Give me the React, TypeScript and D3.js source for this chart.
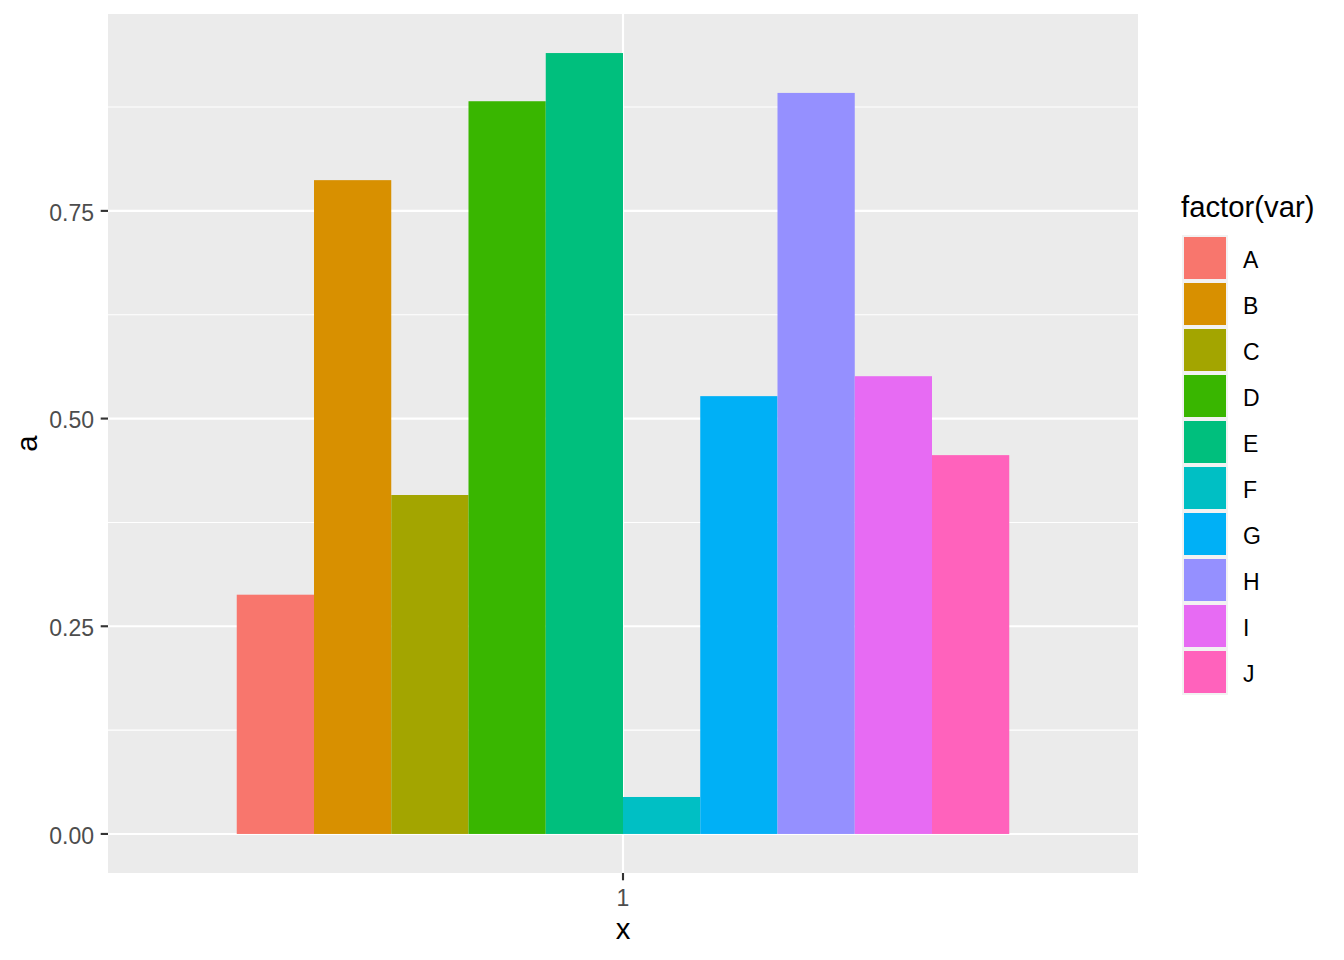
import React from "react";
import * as d3 from "d3";

const categories = ["1"];
const vars = ["A", "B", "C", "D", "E", "F", "G", "H", "I", "J"];
const values = [0.288, 0.787, 0.408, 0.882, 0.940, 0.0445, 0.527, 0.892, 0.551, 0.456];
const colors = ["#F8766D", "#D89000", "#A3A500", "#39B600", "#00BF7D", "#00BFC4", "#00B0F6", "#9590FF", "#E76BF3", "#FF62BC"];
const yTicks = [0, 0.25, 0.5, 0.75];

const W = 1344, H = 960;
const panel = { left: 108, right: 1138, top: 14, bottom: 873 };
const font = "Liberation Sans, Arial, sans-serif";
const tickFs = 23;
const titleFs = 29.3;

export default function App() {
  const ymax = d3.max(values)!;
  const y = d3.scaleLinear().domain([-0.05 * ymax, ymax * 1.05]).range([panel.bottom, panel.top]);
  const unit = (panel.right - panel.left) / 1.2;
  const x = d3.scaleBand().domain(categories).range([panel.left + 0.6 * unit - unit / 2, panel.right - 0.6 * unit + unit / 2]);
  const cx = x(categories[0])! + x.bandwidth() / 2;
  const xs = d3.scaleBand().domain(vars).range([cx - 0.45 * unit, cx + 0.45 * unit]);
  const minorTicks = [0.125, 0.375, 0.625, 0.875];

  return (
    <svg width={W} height={H} style={{ position: "absolute", left: 0, top: 0, display: "block" }} fontFamily={font}>
      <rect x={0} y={0} width={W} height={H} fill="#FFFFFF" />
      <rect x={panel.left} y={panel.top} width={panel.right - panel.left} height={panel.bottom - panel.top} fill="#EBEBEB" />
      {minorTicks.map((t) => (
        <line key={"m" + t} x1={panel.left} x2={panel.right} y1={y(t)} y2={y(t)} stroke="#FFFFFF" strokeWidth={1.07} />
      ))}
      {yTicks.map((t) => (
        <line key={"g" + t} x1={panel.left} x2={panel.right} y1={y(t)} y2={y(t)} stroke="#FFFFFF" strokeWidth={2.13} />
      ))}
      {categories.map((c) => (
        <line key={"xg" + c} x1={cx} x2={cx} y1={panel.top} y2={panel.bottom} stroke="#FFFFFF" strokeWidth={2.13} />
      ))}
      {vars.map((v, i) => (
        <rect key={v} x={xs(v)!} width={xs.bandwidth()} y={y(values[i])} height={y(0) - y(values[i])} fill={colors[i]} />
      ))}
      {yTicks.map((t) => (
        <g key={"t" + t}>
          <line x1={panel.left - 7.3} x2={panel.left} y1={y(t)} y2={y(t)} stroke="#333333" strokeWidth={2.13} />
          <text x={94} y={y(t) + 1.5} dy="0.36em" textAnchor="end" fontSize={tickFs} fill="#4D4D4D">
            {t.toFixed(2)}
          </text>
        </g>
      ))}
      {categories.map((c) => (
        <g key={"xt" + c}>
          <line x1={cx} x2={cx} y1={panel.bottom} y2={panel.bottom + 7.3} stroke="#333333" strokeWidth={2.13} />
          <text x={cx} y={906} textAnchor="middle" fontSize={tickFs} fill="#4D4D4D">{c}</text>
        </g>
      ))}
      <text x={cx} y={939} textAnchor="middle" fontSize={titleFs} fill="#000000">x</text>
      <text transform={`translate(37, ${(panel.top + panel.bottom) / 2}) rotate(-90)`} textAnchor="middle" fontSize={titleFs} fill="#000000">a</text>
      <text x={1181} y={217} fontSize={titleFs} fill="#000000">factor(var)</text>
      {vars.map((v, i) => {
        const ky = 235 + i * 46;
        return (
          <g key={"l" + v}>
            <rect x={1182} y={ky} width={46} height={46} fill="#F2F2F2" />
            <rect x={1184} y={ky + 2} width={42} height={42} fill={colors[i]} />
            <text x={1243} y={ky + 25} dy="0.36em" fontSize={tickFs} fill="#000000">{v}</text>
          </g>
        );
      })}
    </svg>
  );
}
